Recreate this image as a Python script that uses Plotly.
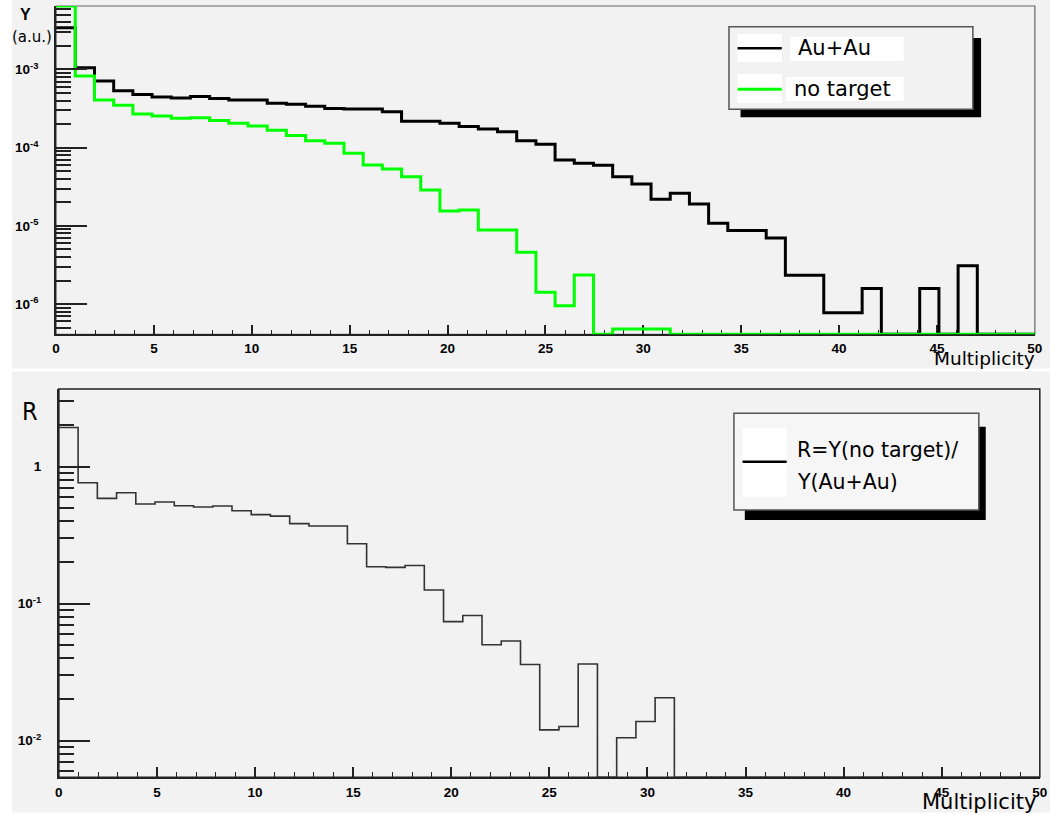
import numpy as np
import plotly.graph_objects as go

# ---------------- data ----------------
x_min, x_max, n_bins = 0.0, 50.0, 51          # histogram binning (Multiplicity)
au_au = [3.43e-3, 1.05e-3, 7.1e-4, 5.36e-4, 4.8e-4, 4.44e-4, 4.32e-4, 4.5e-4, 4.24e-4, 4.07e-4,
         4.07e-4, 3.69e-4, 3.59e-4, 3.39e-4, 3.16e-4, 3.13e-4, 3.13e-4, 2.88e-4, 2.17e-4, 2.17e-4,
         2.05e-4, 1.86e-4, 1.73e-4, 1.6e-4, 1.23e-4, 1.11e-4, 6.96e-5, 6.3e-5, 5.95e-5, 4.26e-5,
         3.44e-5, 2.19e-5, 2.61e-5, 1.9e-5, 1.08e-5, 8.7e-6, 8.7e-6, 7.0e-6, 2.33e-6, 2.33e-6,
         7.74e-7, 7.74e-7, 1.58e-6, 0, 0, 1.58e-6, 0, 3.1e-6, 0, 0, 0]
no_target = [6.5e-3, 8.26e-4, 4.07e-4, 3.48e-4, 2.7e-4, 2.54e-4, 2.37e-4, 2.42e-4, 2.22e-4, 2.05e-4,
             1.9e-4, 1.67e-4, 1.43e-4, 1.23e-4, 1.14e-4, 8.5e-5, 6.0e-5, 5.35e-5, 4.26e-5, 2.88e-5,
             1.55e-5, 1.6e-5, 8.87e-6, 8.87e-6, 4.6e-6, 1.42e-6, 9.5e-7, 2.36e-6, 0, 4.8e-7,
             4.8e-7, 4.8e-7, 0, 0, 0, 0, 0, 0, 0, 0,
             0, 0, 0, 0, 0, 0, 0, 0, 0, 0, 0]
ratio = [1.93, 0.764, 0.587, 0.646, 0.534, 0.552, 0.519, 0.508, 0.516, 0.477,
         0.447, 0.436, 0.384, 0.369, 0.369, 0.274, 0.186, 0.184, 0.19, 0.126,
         0.074, 0.082, 0.0502, 0.0534, 0.036, 0.012, 0.0127, 0.0363, 0, 0.0105,
         0.0138, 0.0206, 0, 0, 0, 0, 0, 0, 0, 0,
         0, 0, 0, 0, 0, 0, 0, 0, 0, 0, 0]
x_ticks = [0, 5, 10, 15, 20, 25, 30, 35, 40, 45, 50]
top_decades = [1e-6, 1e-5, 1e-4, 1e-3]
top_labels = ["10<sup>-6</sup>", "10<sup>-5</sup>", "10<sup>-4</sup>", "10<sup>-3</sup>"]
bot_decades = [1e-2, 1e-1, 1]
bot_labels = ["10<sup>-2</sup>", "10<sup>-1</sup>", "1"]

# ---------------- layout helpers ----------------
W, H = 1058, 815
def px(x): return x / W
def py(y): return 1 - y / H

top_yrange = [-6.387, -2.188]
bot_yrange = [-2.267, 0.567]

edges = np.linspace(x_min, x_max, n_bins + 1)

def step(vals, floor):
    v = np.array(vals, dtype=float)
    v = np.where(v > 0, v, floor)
    return edges, np.append(v, v[-1])

def minor_vals(lo, hi):
    out = []
    for d in range(-8, 2):
        for m in range(2, 10):
            val = m * 10.0 ** d
            if 10 ** lo < val < 10 ** hi:
                out.append(val)
    return out

def bold(labels):
    return ["<b>" + s + "</b>" for s in labels]

fig = go.Figure()

xs, ys = step(au_au, 10 ** top_yrange[0])
fig.add_trace(go.Scatter(x=xs, y=ys, mode="lines", line=dict(color="black", width=3, shape="hv"),
                         xaxis="x", yaxis="y", hoverinfo="skip"))
xs, ys = step(no_target, 10 ** top_yrange[0])
fig.add_trace(go.Scatter(x=xs, y=ys, mode="lines", line=dict(color="#00ff00", width=3, shape="hv"),
                         xaxis="x", yaxis="y", hoverinfo="skip"))
xs, ys = step(ratio, 10 ** bot_yrange[0])
fig.add_trace(go.Scatter(x=xs, y=ys, mode="lines", line=dict(color="#333333", width=1.6, shape="hv"),
                         xaxis="x2", yaxis="y2", hoverinfo="skip"))

tickfont = dict(family="Liberation Sans", size=13.5, color="black")

def xaxis(domain, anchor, ticklen, standoff, layer):
    return dict(domain=domain, anchor=anchor, range=[x_min, x_max], tickmode="array",
                tickvals=x_ticks, ticktext=bold([str(t) for t in x_ticks]), ticks="inside", ticklen=ticklen,
                tickwidth=1.5, tickcolor="#222", showline=True, linewidth=2, linecolor="#222",
                showgrid=False, zeroline=False, tickfont=tickfont, ticklabelstandoff=standoff,
                minor=dict(dtick=1, ticks="inside", ticklen=ticklen / 2, tickwidth=1.2, tickcolor="#222"),
                layer=layer)

def yaxis(domain, anchor, rng, decs, labels):
    return dict(domain=domain, anchor=anchor, type="log", range=rng, tickmode="array",
                tickvals=decs, ticktext=bold(labels), ticks="inside", ticklen=31, tickwidth=1.6,
                tickcolor="#222", showline=True, linewidth=2, linecolor="#222", showgrid=False,
                zeroline=False, tickfont=tickfont, ticklabelstandoff=13,
                minor=dict(tickmode="array", tickvals=minor_vals(*rng), ticks="inside",
                           ticklen=15, tickwidth=1.6, tickcolor="#222"))

shapes = [
    # panel backgrounds
    dict(type="rect", xref="paper", yref="paper", x0=px(8), x1=px(1058), y0=py(0), y1=py(368.5),
         fillcolor="#f2f2f2", line=dict(width=0), layer="below"),
    dict(type="rect", xref="paper", yref="paper", x0=px(8), x1=px(1058), y0=py(371.5), y1=py(812.5),
         fillcolor="#f2f2f2", line=dict(width=0), layer="below"),
    # frames
    dict(type="rect", xref="paper", yref="paper", x0=px(52.7), x1=px(1042.7), y0=py(334.3), y1=py(6),
         line=dict(color="#666", width=1.2), layer="below"),
    dict(type="rect", xref="paper", yref="paper", x0=px(55.5), x1=px(1047.7), y0=py(777.3), y1=py(389),
         line=dict(color="#222", width=1.5), layer="below"),
    # top legend
    dict(type="rect", xref="paper", yref="paper", x0=px(745), x1=px(988.3), y0=py(117.3), y1=py(38),
         fillcolor="black", line=dict(width=0)),
    dict(type="rect", xref="paper", yref="paper", x0=px(733.3), x1=px(980), y0=py(109.3), y1=py(26.7),
         fillcolor="#f2f2f2", line=dict(color="#555", width=1.5)),
    dict(type="rect", xref="paper", yref="paper", x0=px(742), x1=px(787), y0=py(62), y1=py(34),
         fillcolor="white", line=dict(width=0)),
    dict(type="rect", xref="paper", yref="paper", x0=px(742), x1=px(787), y0=py(103), y1=py(74),
         fillcolor="white", line=dict(width=0)),
    dict(type="rect", xref="paper", yref="paper", x0=px(795), x1=px(910), y0=py(61), y1=py(37),
         fillcolor="white", line=dict(width=0)),
    dict(type="rect", xref="paper", yref="paper", x0=px(791), x1=px(910), y0=py(101), y1=py(77),
         fillcolor="white", line=dict(width=0)),
    dict(type="line", xref="paper", yref="paper", x0=px(742), x1=px(786.7), y0=py(48.3), y1=py(48.3),
         line=dict(color="black", width=2.5)),
    dict(type="line", xref="paper", yref="paper", x0=px(742), x1=px(786.7), y0=py(89.3), y1=py(89.3),
         line=dict(color="#00ff00", width=3)),
    # bottom legend
    dict(type="rect", xref="paper", yref="paper", x0=px(749.3), x1=px(993), y0=py(520), y1=py(426.7),
         fillcolor="black", line=dict(width=0)),
    dict(type="rect", xref="paper", yref="paper", x0=px(738.3), x1=px(986), y0=py(510), y1=py(413.3),
         fillcolor="#f6f6f6", line=dict(color="#555", width=1.5)),
    dict(type="rect", xref="paper", yref="paper", x0=px(747), x1=px(791.7), y0=py(496.7), y1=py(428),
         fillcolor="white", line=dict(width=0)),
    dict(type="line", xref="paper", yref="paper", x0=px(747), x1=px(791.7), y0=py(461.7), y1=py(461.7),
         line=dict(color="black", width=2.5)),
]

legfont = dict(family="DejaVu Sans", size=21, color="black")
annotations = [
    dict(text="Au+Au", x=px(801), y=py(48.5), xref="paper", yref="paper", xanchor="left",
         yanchor="middle", showarrow=False, font=legfont),
    dict(text="no target", x=px(797), y=py(89), xref="paper", yref="paper", xanchor="left",
         yanchor="middle", showarrow=False, font=legfont),
    dict(text="R=Y(no target)/", x=px(800), y=py(450), xref="paper", yref="paper", xanchor="left",
         yanchor="middle", showarrow=False, font=dict(family="DejaVu Sans", size=20.5, color="black")),
    dict(text="Y(Au+Au)", x=px(800), y=py(482), xref="paper", yref="paper", xanchor="left",
         yanchor="middle", showarrow=False, font=dict(family="DejaVu Sans", size=20.5, color="black")),
    dict(text="Multiplicity", x=px(1045), y=py(358), xref="paper", yref="paper", xanchor="right",
         yanchor="middle", showarrow=False, font=dict(family="DejaVu Sans", size=18.5, color="black")),
    dict(text="Multiplicity", x=px(1046), y=py(802), xref="paper", yref="paper", xanchor="right",
         yanchor="middle", showarrow=False, font=dict(family="DejaVu Sans", size=21, color="black")),
    dict(text="<b>Y</b>", x=px(22), y=py(14), xref="paper", yref="paper", xanchor="center",
         yanchor="middle", showarrow=False, font=dict(family="Liberation Sans", size=16, color="black")),
    dict(text="(a.u.)", x=px(28), y=py(37), xref="paper", yref="paper", xanchor="center",
         yanchor="middle", showarrow=False, font=dict(family="DejaVu Sans", size=15, color="black")),
    dict(text="R", x=px(26), y=py(411), xref="paper", yref="paper", xanchor="center",
         yanchor="middle", showarrow=False, font=dict(family="DejaVu Sans Condensed", size=25, color="black")),
]

fig.update_layout(
    width=W, height=H, margin=dict(l=0, r=0, t=0, b=0),
    paper_bgcolor="white", plot_bgcolor="rgba(0,0,0,0)", showlegend=False,
    xaxis=xaxis([px(52.7), px(1042.7)], "y", 9, 0, "below traces"),
    yaxis=yaxis([py(334.3), py(6)], "x", top_yrange, top_decades, top_labels),
    xaxis2=xaxis([px(55.5), px(1047.7)], "y2", 10.5, 1, "above traces"),
    yaxis2=yaxis([py(777.3), py(389)], "x2", bot_yrange, bot_decades, bot_labels),
    shapes=shapes, annotations=annotations,
)

fig.write_html("out.html", config={"displayModeBar": False},
               post_script="document.body.style.margin='0';document.body.style.overflow='hidden';")
